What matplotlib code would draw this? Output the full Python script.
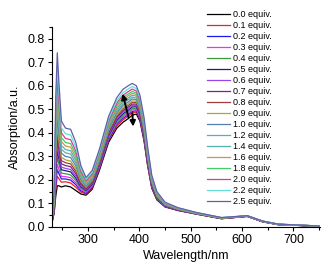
import matplotlib
matplotlib.use("Agg")
import matplotlib.pyplot as plt
from matplotlib.ticker import MultipleLocator

plt.rcParams['font.family'] = ['Liberation Sans', 'DejaVu Sans']

# wavelength grid (nm)
wl = [230, 234, 237, 240, 243, 248, 256, 266, 276, 286, 296, 308, 322, 340, 356, 368,
      378, 386, 394, 401, 409, 416, 424, 434, 450, 475, 510, 560, 610, 640, 670, 750]

# absorption, one list per titration step
eq_00 = [.020, .060, .130, .175, .175, .170, .175, .170, .155, .140, .135, .160, .240, .360, .420, .445,
         .460, .475, .480, .450, .365, .260, .165, .115, .085, .070, .055, .035, .045, .022, .010, .003]
eq_01 = [.022, .066, .159, .215, .206, .190, .192, .187, .169, .148, .140, .166, .247, .368, .429, .455,
         .470, .485, .488, .458, .372, .266, .169, .118, .086, .071, .055, .035, .045, .022, .010, .003]
eq_02 = [.024, .071, .180, .243, .228, .204, .204, .199, .180, .154, .144, .169, .251, .373, .436, .462,
         .477, .491, .494, .463, .377, .270, .172, .119, .087, .071, .056, .036, .045, .022, .010, .003]
eq_03 = [.025, .074, .197, .265, .246, .215, .214, .209, .188, .159, .147, .173, .255, .378, .441, .468,
         .482, .497, .499, .468, .381, .273, .174, .121, .088, .072, .056, .036, .045, .023, .010, .003]
eq_04 = [.026, .079, .218, .294, .268, .229, .226, .221, .198, .165, .151, .177, .259, .383, .447, .474,
         .489, .503, .505, .473, .386, .277, .177, .122, .089, .073, .056, .036, .046, .023, .010, .003]
eq_05 = [.028, .083, .239, .322, .291, .243, .239, .234, .208, .171, .155, .181, .264, .389, .454, .481,
         .496, .510, .511, .479, .391, .281, .179, .124, .090, .073, .057, .036, .046, .023, .011, .003]
eq_06 = [.029, .087, .256, .345, .309, .254, .249, .244, .217, .176, .158, .184, .267, .393, .459, .488,
         .502, .516, .516, .483, .395, .284, .182, .126, .091, .074, .057, .037, .046, .023, .011, .003]
eq_07 = [.031, .092, .277, .373, .331, .268, .261, .256, .227, .182, .161, .189, .272, .399, .466, .494,
         .509, .522, .522, .489, .400, .288, .184, .127, .092, .074, .057, .037, .046, .023, .011, .003]
eq_08 = [.032, .096, .298, .401, .353, .282, .273, .268, .237, .188, .165, .192, .276, .404, .472, .501,
         .516, .529, .528, .494, .405, .292, .187, .129, .093, .075, .058, .037, .046, .023, .011, .003]
eq_09 = [.034, .101, .319, .429, .375, .296, .285, .280, .247, .194, .169, .197, .281, .410, .479, .508,
         .523, .536, .534, .500, .410, .296, .190, .131, .094, .075, .058, .037, .046, .023, .011, .003]
eq_10 = [.035, .106, .344, .463, .402, .313, .300, .295, .260, .201, .173, .201, .286, .416, .486, .517,
         .531, .544, .541, .506, .416, .301, .193, .133, .095, .076, .059, .038, .047, .024, .011, .004]
eq_12 = [.037, .111, .369, .497, .429, .330, .315, .310, .272, .208, .178, .206, .292, .423, .494, .525,
         .540, .552, .548, .513, .422, .306, .196, .135, .096, .077, .059, .038, .047, .024, .011, .004]
eq_14 = [.039, .117, .395, .531, .455, .346, .329, .324, .284, .216, .182, .210, .296, .429, .502, .533,
         .548, .560, .556, .519, .428, .310, .200, .137, .098, .078, .059, .038, .047, .024, .011, .004]
eq_16 = [.041, .122, .420, .565, .482, .363, .344, .339, .296, .223, .187, .215, .302, .436, .510, .541,
         .557, .568, .563, .526, .434, .315, .203, .139, .099, .078, .060, .038, .047, .024, .011, .004]
eq_18 = [.043, .128, .445, .599, .509, .380, .359, .354, .309, .230, .191, .221, .307, .443, .518, .550,
         .565, .576, .570, .533, .440, .320, .206, .141, .100, .079, .060, .039, .047, .024, .012, .004]
eq_20 = [.045, .134, .474, .638, .540, .400, .376, .371, .323, .238, .197, .225, .314, .450, .527, .560,
         .575, .586, .578, .540, .447, .326, .210, .144, .101, .080, .061, .039, .047, .025, .012, .004]
eq_22 = [.047, .141, .508, .684, .576, .422, .396, .391, .340, .248, .203, .232, .321, .459, .537, .571,
         .586, .597, .588, .549, .455, .332, .215, .147, .103, .081, .061, .040, .048, .025, .012, .004]
eq_25 = [.050, .150, .550, .740, .620, .450, .420, .415, .360, .260, .210, .240, .330, .470, .550, .585,
         .600, .610, .600, .560, .465, .340, .220, .150, .105, .082, .062, .040, .048, .025, .012, .004]

labels = ['0.0', '0.1', '0.2', '0.3', '0.4', '0.5', '0.6', '0.7', '0.8', '0.9',
          '1.0', '1.2', '1.4', '1.6', '1.8', '2.0', '2.2', '2.5']
spectra = [eq_00, eq_01, eq_02, eq_03, eq_04, eq_05, eq_06, eq_07, eq_08, eq_09,
           eq_10, eq_12, eq_14, eq_16, eq_18, eq_20, eq_22, eq_25]
colours = ['#000000', '#ee2222', '#1a1aee', '#ee33ee', '#3d9a3d', '#1a1a88',
           '#9944ee', '#802080', '#a03c3c', '#a8a838', '#5580b0', '#66aab0',
           '#55b0b0', '#c89650', '#44cc66', '#d83c90', '#66dddd', '#6060a8']

fig = plt.figure(figsize=(3.28, 2.67), dpi=100)
ax = fig.add_axes([0.159, 0.150, 0.817, 0.749])

for s, c, lab in zip(spectra, colours, labels):
    ax.plot(wl, s, color=c, lw=0.9, label=lab + ' equiv.')

# arrows showing the changes with titration
ax.annotate('', xy=(366, 0.578), xytext=(380, 0.455),
            arrowprops=dict(arrowstyle='-|>', color='black', lw=1.4, mutation_scale=8))
ax.annotate('', xy=(388, 0.415), xytext=(386, 0.495),
            arrowprops=dict(arrowstyle='-|>', color='black', lw=1.4, mutation_scale=8))

ax.set_xlim(230, 752)
ax.set_ylim(0, 0.85)
ax.xaxis.set_minor_locator(MultipleLocator(50))
ax.yaxis.set_minor_locator(MultipleLocator(0.05))
ax.set_xticks([300, 400, 500, 600, 700])
ax.set_yticks([0.0, 0.1, 0.2, 0.3, 0.4, 0.5, 0.6, 0.7, 0.8])
ax.tick_params(which='both', direction='out', labelsize=9, length=3, width=0.8, pad=2)
ax.tick_params(which='minor', length=2)
ax.spines['top'].set_visible(False)
ax.spines['right'].set_visible(False)

ax.set_xlabel('Wavelength/nm', fontsize=9, labelpad=3)
ax.set_ylabel('Absorption/a.u.', fontsize=9, labelpad=5)

fig.legend(loc='upper left', bbox_to_anchor=(0.616, 0.982), fontsize=6.5, frameon=False,
           handlelength=2.45, handletextpad=0.35, labelspacing=0.22, borderpad=0.1)

plt.savefig('out.png', dpi=100)
